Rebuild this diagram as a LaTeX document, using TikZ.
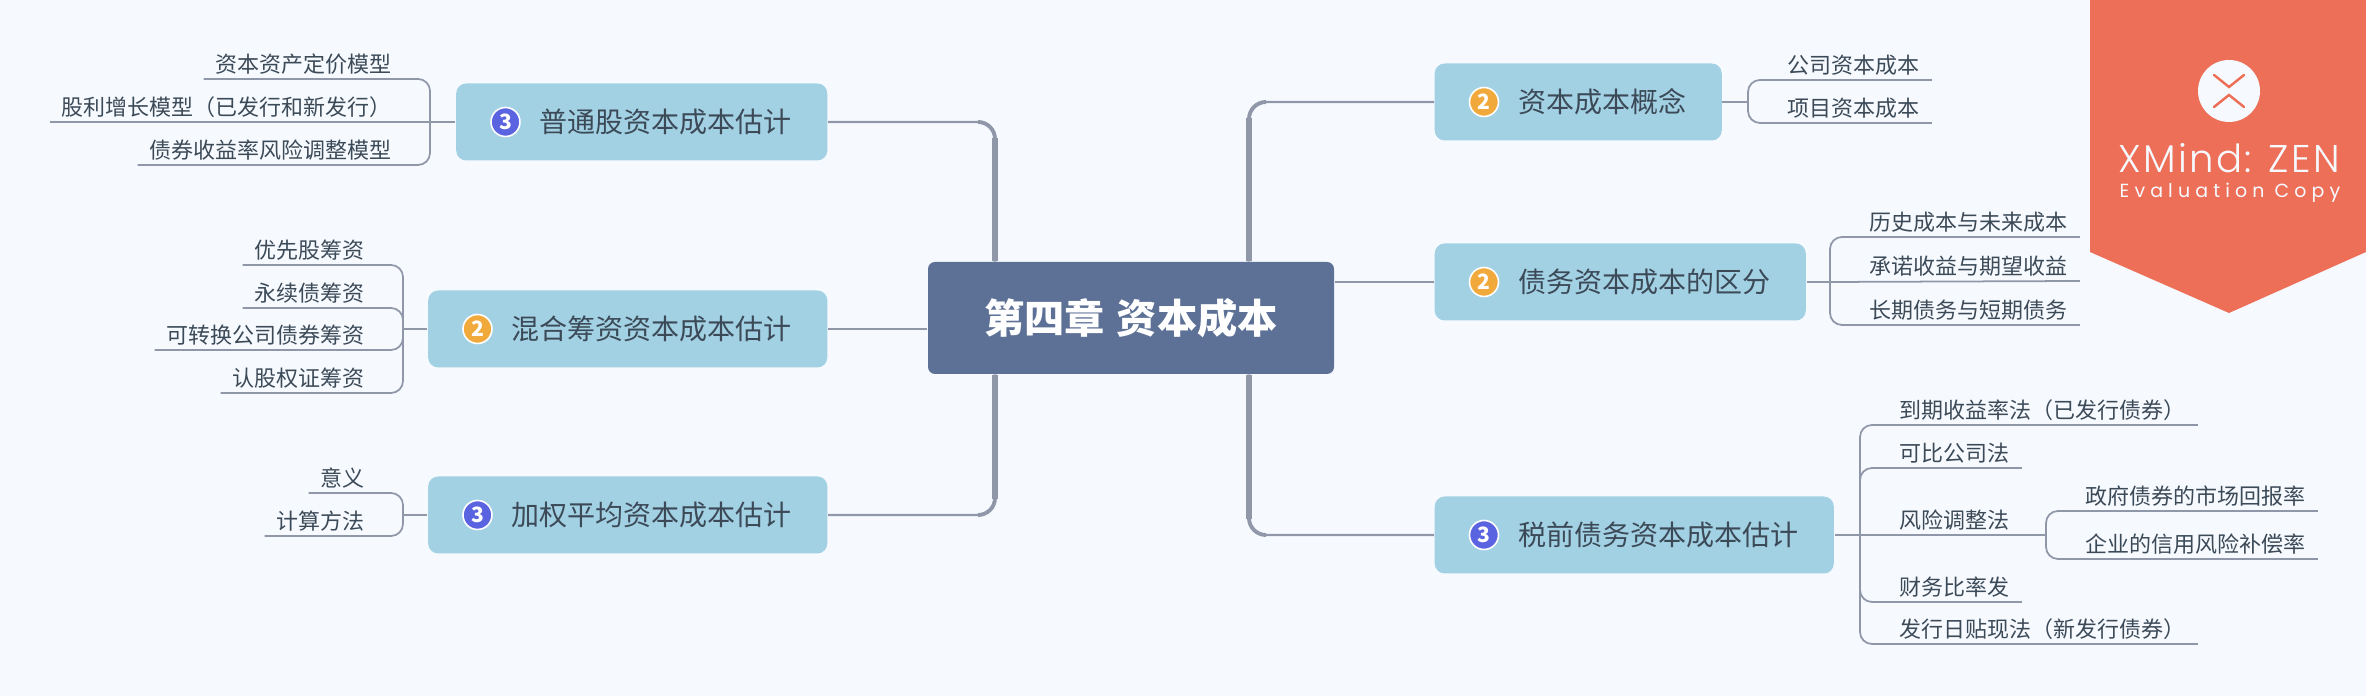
\documentclass[tikz,border=0pt]{standalone}
\usepackage{fontspec}
\setmainfont{Noto Sans CJK SC}
\newfontfamily\logofont[LetterSpace=6]{Poppins Light}
\newfontfamily\copyfont[LetterSpace=27]{Poppins}
\usetikzlibrary{shapes,arrows.meta,positioning}

\definecolor{paper}{HTML}{F6FAFF}
\definecolor{rootfill}{HTML}{5D7096}
\definecolor{boxfill}{HTML}{A3D1E4}
\definecolor{wire}{HTML}{9097A8}
\definecolor{ink}{HTML}{3C4A58}
\definecolor{banner}{HTML}{EE6F58}
\definecolor{numtwo}{HTML}{F2A93B}
\definecolor{numthree}{HTML}{5A63E0}

\tikzset{
    rootbox/.style={fill=rootfill, rounded corners=0.07cm, minimum width=4.06cm, minimum height=1.12cm, text=white, font=\fontsize{11.45}{13}\selectfont\bfseries},
    topicbox/.style={fill=boxfill, rounded corners=0.1cm, minimum height=0.77cm, inner xsep=0.355cm, inner ysep=0pt, text=ink, font=\fontsize{7.97}{9}\selectfont},
    leaf/.style={inner xsep=0.115cm, inner ysep=0.02cm, text height=0.195cm, text depth=0.04cm, text=ink, font=\fontsize{6.26}{7.5}\selectfont},
    numdot/.style={circle, draw=white, line width=0.45pt, minimum size=0.29cm, inner sep=0pt, text=white, font=\fontsize{6}{7}\selectfont\bfseries},
    two/.style={numdot, fill=numtwo},
    three/.style={numdot, fill=numthree},
    trunk/.style={draw=wire, line width=1.7pt, shorten >=0.16cm},
    midtrunk/.style={draw=wire, line width=1.1pt, rounded corners=0.17cm, shorten >=#1},
    branch/.style={draw=wire, line width=0.7pt, rounded corners=0.17cm},
    stub/.style={draw=wire, line width=0.8pt},
    twig/.style={draw=wire, line width=0.5pt, rounded corners=0.12cm}
}

\begin{document}
\begin{tikzpicture}
    \useasboundingbox (0,0) rectangle (23.66,6.96);
    \fill[paper] (0,0) rectangle (23.66,6.96);

    % centre and topics
    \node[rootbox] (root) at (11.31,3.78) {第四章\hspace{0.12cm}资本成本};
    \node[topicbox, anchor=east] (common) at (8.28,5.74) {\hspace{0.48cm}普通股资本成本估计};
    \node[topicbox, anchor=east] (hybrid) at (8.28,3.67) {\hspace{0.48cm}混合筹资资本成本估计};
    \node[topicbox, anchor=east] (wacc) at (8.28,1.81) {\hspace{0.48cm}加权平均资本成本估计};
    \node[topicbox, anchor=west] (concept) at (14.34,5.94) {\hspace{0.48cm}资本成本概念};
    \node[topicbox, anchor=west] (debtdiff) at (14.34,4.14) {\hspace{0.48cm}债务资本成本的区分};
    \node[topicbox, anchor=west] (pretax) at (14.34,1.61) {\hspace{0.48cm}税前债务资本成本估计};

    % number marks
    \node[three] (ncommon) at ([xshift=0.5cm]common.west) {3};
    \node[two] (nhybrid) at ([xshift=0.5cm]hybrid.west) {2};
    \node[three] (nwacc) at ([xshift=0.5cm]wacc.west) {3};
    \node[two] (nconcept) at ([xshift=0.5cm]concept.west) {2};
    \node[two] (ndebtdiff) at ([xshift=0.5cm]debtdiff.west) {2};
    \node[three] (npretax) at ([xshift=0.5cm]pretax.west) {3};

    % left leaves
    \node[leaf, anchor=south east] (capm) at (4.04,6.17) {资本资产定价模型};
    \node[leaf, anchor=south east] (growth) at (4.04,5.74) {股利增长模型（已发行和新发行）};
    \node[leaf, anchor=south east] (yield) at (4.04,5.31) {债券收益率风险调整模型};
    \node[leaf, anchor=south east] (prefer) at (3.77,4.31) {优先股筹资};
    \node[leaf, anchor=south east] (perpetual) at (3.77,3.88) {永续债筹资};
    \node[leaf, anchor=south east] (convert) at (3.77,3.46) {可转换公司债券筹资};
    \node[leaf, anchor=south east] (warrant) at (3.77,3.03) {认股权证筹资};
    \node[leaf, anchor=south east] (meaning) at (3.77,2.03) {意义};
    \node[leaf, anchor=south east] (method) at (3.77,1.60) {计算方法};

    % right leaves
    \node[leaf, anchor=south west] (company) at (17.755,6.16) {公司资本成本};
    \node[leaf, anchor=south west] (project) at (17.755,5.73) {项目资本成本};
    \node[leaf, anchor=south west] (history) at (18.575,4.59) {历史成本与未来成本};
    \node[leaf, anchor=south west] (promise) at (18.575,4.15) {承诺收益与期望收益};
    \node[leaf, anchor=south west] (term) at (18.575,3.71) {长期债务与短期债务};
    \node[leaf, anchor=south west] (maturity) at (18.875,2.71) {到期收益率法（已发行债券）};
    \node[leaf, anchor=south west] (peer) at (18.875,2.28) {可比公司法};
    \node[leaf, anchor=south west] (risk) at (18.875,1.61) {风险调整法};
    \node[leaf, anchor=south west] (ratio) at (18.875,0.94) {财务比率发};
    \node[leaf, anchor=south west] (discount) at (18.875,0.52) {发行日贴现法（新发行债券）};
    \node[leaf, anchor=south west] (govern) at (20.735,1.85) {政府债券的市场回报率};
    \node[leaf, anchor=south west] (credit) at (20.735,1.37) {企业的信用风险补偿率};

    % junctions
    \coordinate (rootl) at (9.95,3.78);
    \coordinate (rootr) at (12.49,3.78);
    \coordinate (jcommon) at (4.30,5.74);
    \coordinate (jhybrid) at (4.03,3.67);
    \coordinate (jwacc) at (4.03,1.81);
    \coordinate (jconcept) at (17.48,5.94);
    \coordinate (jdebtdiff) at (18.30,4.14);
    \coordinate (jpretax) at (18.60,1.61);
    \coordinate (jrisk) at (20.46,1.61);

    % from the centre
    \draw[branch] (rootl |- root.north) |- (common.east);
    \draw[midtrunk=1.5cm] (rootl |- root.north) |- (common.east);
    \draw[trunk] (rootl |- root.north) -- (rootl |- common.east);
    \draw[branch] (rootl |- root.south) |- (wacc.east);
    \draw[midtrunk=1.5cm] (rootl |- root.south) |- (wacc.east);
    \draw[trunk] (rootl |- root.south) -- (rootl |- wacc.east);
    \draw[branch] (rootr |- root.north) |- (concept.west);
    \draw[midtrunk=1.68cm] (rootr |- root.north) |- (concept.west);
    \draw[trunk] (rootr |- root.north) -- (rootr |- concept.west);
    \draw[branch] (rootr |- root.south) |- (pretax.west);
    \draw[midtrunk=1.68cm] (rootr |- root.south) |- (pretax.west);
    \draw[trunk] (rootr |- root.south) -- (rootr |- pretax.west);
    \draw[branch] (hybrid.east) -- (hybrid.east -| root.west);
    \draw[branch] (debtdiff.west) -- (debtdiff.west -| root.east);

    % topic to leaves
    \draw[stub] (common.west) -- (jcommon);
    \draw[twig] (jcommon) |- (capm.south west);
    \draw[twig] (jcommon) -- (growth.south west);
    \draw[twig] (jcommon) |- (yield.south west);

    \draw[stub] (hybrid.west) -- (jhybrid);
    \draw[twig] (jhybrid) |- (prefer.south west);
    \draw[twig] (jhybrid) |- (perpetual.south west);
    \draw[twig] (jhybrid) |- (convert.south west);
    \draw[twig] (jhybrid) |- (warrant.south west);

    \draw[stub] (wacc.west) -- (jwacc);
    \draw[twig] (jwacc) |- (meaning.south west);
    \draw[twig] (jwacc) |- (method.south west);

    \draw[stub] (concept.east) -- (jconcept);
    \draw[twig] (jconcept) |- (company.south east);
    \draw[twig] (jconcept) |- (project.south east);

    \draw[stub] (debtdiff.east) -- (jdebtdiff);
    \draw[twig] (jdebtdiff) |- (history.south east);
    \draw[twig] (jdebtdiff) -- (promise.south east);
    \draw[twig] (jdebtdiff) |- (term.south east);

    \draw[stub] (pretax.east) -- (jpretax);
    \draw[twig] (jpretax) |- (maturity.south east);
    \draw[twig] (jpretax) |- (peer.south east);
    \draw[twig] (jpretax) -- (jrisk);
    \draw[twig] (jpretax) |- (ratio.south east);
    \draw[twig] (jpretax) |- (discount.south east);
    \draw[twig] (jrisk) |- (govern.south east);
    \draw[twig] (jrisk) |- (credit.south east);

    % banner
    \fill[banner] (20.90,6.96) -- (23.66,6.96) -- (23.66,4.44) -- (22.29,3.83) -- (20.90,4.44) -- cycle;
    \node[circle, fill=paper, minimum size=0.62cm, inner sep=0pt] (logo) at (22.29,6.05) {};
    \draw[banner, line width=0.7pt, line cap=round] ([shift={(-0.15,0.16)}]logo.center) -- ([shift={(0,0.04)}]logo.center) -- ([shift={(0.15,0.16)}]logo.center);
    \draw[banner, line width=0.7pt, line cap=round] ([shift={(-0.15,-0.16)}]logo.center) -- ([shift={(0,-0.04)}]logo.center) -- ([shift={(0.15,-0.16)}]logo.center);
    \node[text=paper, inner sep=0pt, font=\logofont\fontsize{11}{12}\selectfont] (brand) at (22.29,5.38) {XMind: ZEN};
    \node[text=paper, inner sep=0pt, font=\copyfont\fontsize{5.4}{6}\selectfont] (evalcopy) at (22.30,5.03) {Evaluation Copy};
\end{tikzpicture}
\end{document}
